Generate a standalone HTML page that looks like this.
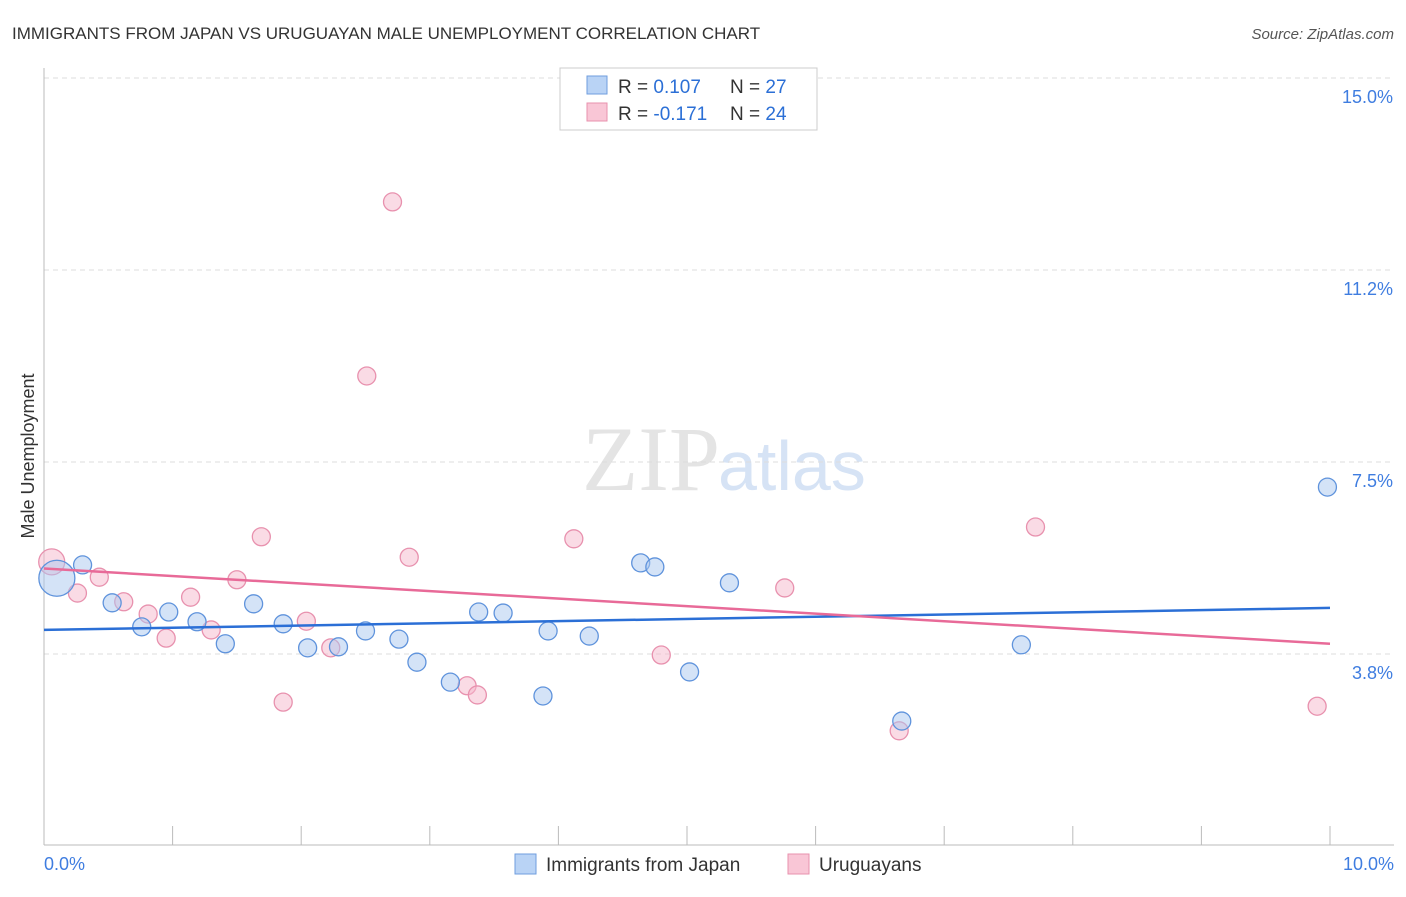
<!DOCTYPE html>
<html><head><meta charset="utf-8"><style>
body{margin:0;background:#fff;font-family:"Liberation Sans",sans-serif}
</style></head><body>
<svg width="1406" height="892" xmlns="http://www.w3.org/2000/svg" font-family="Liberation Sans, sans-serif">
<text x="12" y="39" font-size="17" fill="#333">IMMIGRANTS FROM JAPAN VS URUGUAYAN MALE UNEMPLOYMENT CORRELATION CHART</text>
<text x="1394" y="39" font-size="15" fill="#555" font-style="italic" text-anchor="end">Source: ZipAtlas.com</text>
<text x="720" y="490" font-size="92" fill="#e4e4e4" text-anchor="end" font-family="Liberation Serif, serif">ZIP</text>
<text x="718" y="490" font-size="70" fill="#d6e3f5">atlas</text>
<g id="grid"></g>
<g id="marks"></g>
<text transform="translate(34,456) rotate(-90)" font-size="18" fill="#333" text-anchor="middle">Male Unemployment</text>
<g>
<rect x="560" y="68" width="257" height="62" fill="#fff" stroke="#ccc"/>
<rect x="587" y="76" width="20" height="18" fill="#b9d3f5" stroke="#6f9ede"/>
<rect x="587" y="103" width="20" height="18" fill="#f9c6d6" stroke="#e891ae"/>
<text x="618" y="93" font-size="19" fill="#333">R = <tspan fill="#2b6fd6">0.107</tspan><tspan x="730">N = </tspan><tspan fill="#2b6fd6">27</tspan></text>
<text x="618" y="120" font-size="19" fill="#333">R = <tspan fill="#2b6fd6">-0.171</tspan><tspan x="730">N = </tspan><tspan fill="#2b6fd6">24</tspan></text>
</g>
<g>
<rect x="515" y="854" width="21" height="20" fill="#b9d3f5" stroke="#6f9ede"/>
<text x="546" y="871" font-size="19" fill="#333">Immigrants from Japan</text>
<rect x="788" y="854" width="21" height="20" fill="#f9c6d6" stroke="#e891ae"/>
<text x="819" y="871" font-size="19" fill="#333">Uruguayans</text>
</g>
</svg>
<script>
const yTicks=[15.0,11.25,7.5,3.75];
const yTickLabels=["15.0%","11.2%","7.5%","3.8%"];
const xTickLabels=["0.0%","10.0%"];
const blueX=[0.10,0.30,0.53,0.76,0.97,1.19,1.41,1.63,1.86,2.05,2.29,2.50,2.76,2.90,3.16,3.38,3.57,3.88,3.92,4.24,4.64,4.75,5.02,5.33,6.67,7.60,9.98];
const blueY=[5.23,5.49,4.75,4.28,4.57,4.38,3.95,4.73,4.34,3.87,3.89,4.20,4.04,3.59,3.20,4.57,4.55,2.93,4.20,4.10,5.53,5.45,3.40,5.14,2.44,3.93,7.01];
const blueR=[18,9,9,9,9,9,9,9,9,9,9,9,9,9,9,9,9,9,9,9,9,9,9,9,9,9,9];
const pinkX=[0.06,0.26,0.43,0.62,0.81,0.95,1.14,1.30,1.50,1.69,1.86,2.04,2.23,2.51,2.71,2.84,3.29,3.37,4.12,4.80,5.76,6.65,7.71,9.90];
const pinkY=[5.55,4.94,5.25,4.77,4.53,4.06,4.86,4.22,5.20,6.04,2.81,4.39,3.87,9.18,12.58,5.64,3.13,2.95,6.00,3.73,5.04,2.25,6.23,2.73];
const pinkR=[13,9,9,9,9,9,9,9,9,9,9,9,9,9,9,9,9,9,9,9,9,9,9,9];
const blueTrend=[4.22,4.65];
const pinkTrend=[5.42,3.95];
const NS="http://www.w3.org/2000/svg";
const sx=v=>44+v*128.6, sy=v=>846-v*51.2;
function mk(tag,attrs,parent){const e=document.createElementNS(NS,tag);for(const k in attrs)e.setAttribute(k,attrs[k]);parent.appendChild(e);return e;}
const grid=document.getElementById('grid'), marks=document.getElementById('marks');
yTicks.forEach((t,i)=>{
 const l=mk('line',{x1:44,x2:1394,y1:sy(t),y2:sy(t),stroke:'#ddd','stroke-dasharray':'5,4'},grid);
 
 
 const tx=mk('text',{x:1393,y:sy(t)+25,'font-size':18,fill:'#3f7de0','text-anchor':'end'},grid);
 tx.textContent=yTickLabels[i];
 
 
});
const ax=mk('line',{x1:44,x2:1394,y1:845,y2:845,stroke:'#bbb'},grid);


const ay=mk('line',{x1:44,x2:44,y1:68,y2:845,stroke:'#bbb'},grid);


for(let i=0;i<=10;i++){
 const t=mk('line',{x1:sx(i),x2:sx(i),y1:826,y2:845,stroke:'#bbb'},grid);
 
 
}
[[0,'start',44],[10,'end',1394]].forEach((d,i)=>{
 const t=mk('text',{x:d[2],y:870,'font-size':18,fill:'#3f7de0','text-anchor':d[1]},grid);
 t.textContent=xTickLabels[i];
 
 
});
function pts(X,Y,R,fill,stroke,name){X.forEach((x,i)=>{
 const c=mk('circle',{cx:sx(x),cy:sy(Y[i]),r:R[i],fill:fill,'fill-opacity':0.5,stroke:stroke,'stroke-width':1.3},marks);
 
 
});}
pts(pinkX,pinkY,pinkR,'#f5b8cc','#e891ae','uruguayans-point');
pts(blueX,blueY,blueR,'#a9c8f0','#5f93dc','japan-point');
const bl=mk('line',{x1:sx(0),x2:sx(10),y1:sy(blueTrend[0]),y2:sy(blueTrend[1]),stroke:'#2b6fd6','stroke-width':2.5},marks);


const pl=mk('line',{x1:sx(0),x2:sx(10),y1:sy(pinkTrend[0]),y2:sy(pinkTrend[1]),stroke:'#e86a98','stroke-width':2.5},marks);


</script>
</body></html>
